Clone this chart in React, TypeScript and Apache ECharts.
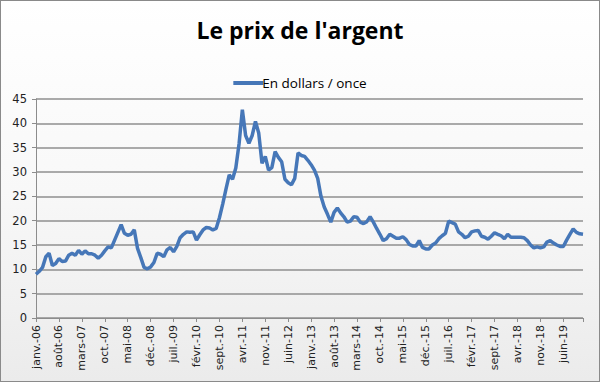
import React, { useEffect, useRef } from "react";
import * as echarts from "echarts";

const title = "Le prix de l'argent";
const seriesName = "En dollars / once";

const monthNames = ["janv.", "févr.", "mars", "avr.", "mai", "juin", "juil.", "août", "sept.", "oct.", "nov.", "déc."];
const years = [6, 7, 8, 9, 10, 11, 12, 13, 14, 15, 16, 17, 18, 19];

const categories: string[] = [];
years.forEach((y) => {
  monthNames.forEach((m) => {
    categories.push(m + "-" + (y < 10 ? "0" + y : String(y)));
  });
});

const v2006 = [9.0, 9.6, 10.4, 12.6, 13.3, 10.8, 11.2, 12.2, 11.6, 11.7, 12.9, 13.3];
const v2007 = [12.9, 13.9, 13.1, 13.8, 13.2, 13.2, 12.9, 12.3, 12.9, 13.8, 14.6, 14.4];
const v2008 = [16.0, 17.6, 19.2, 17.4, 17.0, 17.2, 18.1, 14.3, 12.4, 10.4, 10.1, 10.5];
const v2009 = [11.4, 13.3, 13.1, 12.6, 14.0, 14.5, 13.6, 14.7, 16.5, 17.2, 17.7, 17.6];
const v2010 = [17.7, 16.0, 17.1, 18.1, 18.6, 18.5, 18.1, 18.4, 20.6, 23.4, 26.5, 29.4];
const v2011 = [28.5, 30.8, 35.8, 42.8, 37.5, 35.9, 37.5, 40.4, 38.0, 31.8, 33.2, 30.4];
const v2012 = [30.9, 34.2, 33.0, 32.1, 28.5, 27.8, 27.4, 28.7, 33.9, 33.4, 33.2, 32.4];
const v2013 = [31.5, 30.4, 28.7, 25.0, 22.8, 21.3, 19.7, 21.7, 22.6, 21.6, 20.8, 19.7];
const v2014 = [19.9, 20.8, 20.7, 19.7, 19.4, 19.8, 20.8, 19.7, 18.4, 17.2, 15.9, 16.3];
const v2015 = [17.2, 16.8, 16.4, 16.4, 16.7, 16.1, 15.1, 14.8, 14.8, 15.9, 14.5, 14.2];
const v2016 = [14.2, 15.0, 15.4, 16.3, 16.9, 17.4, 19.9, 19.6, 19.3, 17.7, 17.2, 16.5];
const v2017 = [16.8, 17.7, 17.9, 18.0, 16.8, 16.6, 16.2, 16.8, 17.5, 17.2, 16.9, 16.3];
const v2018 = [17.2, 16.6, 16.6, 16.6, 16.6, 16.5, 15.9, 15.0, 14.4, 14.6, 14.4, 14.6];
const v2019 = [15.6, 15.9, 15.4, 15.0, 14.7, 14.7, 16.0, 17.2, 18.3, 17.6, 17.3, 17.2];

const values = [
  ...v2006, ...v2007, ...v2008, ...v2009, ...v2010, ...v2011, ...v2012,
  ...v2013, ...v2014, ...v2015, ...v2016, ...v2017, ...v2018, ...v2019,
];

const yMin = 0;
const yMax = 45;
const yStep = 5;
const labelEvery = 7;

export default function App() {
  const ref = useRef<HTMLDivElement>(null);
  useEffect(() => {
    if (!ref.current) return;
    const chart = echarts.init(ref.current, null, { renderer: "svg" });
    const last = categories.length - 1;
    chart.setOption({
      animation: false,
      title: {
        text: title,
        left: "center",
        top: 13,
        textStyle: {
          fontFamily: "Open Sans",
          fontWeight: "bold",
          fontSize: 23,
          color: "#000",
        },
      },
      legend: {
        top: 71,
        left: "center",
        itemWidth: 30,
        itemHeight: 4,
        icon: "rect",
        itemGap: 10,
        textStyle: { fontFamily: "Open Sans", fontSize: 13.5, color: "#000", padding: [0, 0, 0, -6] },
        data: [seriesName],
      },
      grid: {
        left: 36,
        right: 17,
        top: 99,
        bottom: 64,
        containLabel: false,
      },
      xAxis: {
        type: "category",
        data: categories,
        boundaryGap: false,
        axisLine: { show: true, lineStyle: { color: "#8c8c8c", width: 1 } },
        axisTick: {
          show: true,
          length: 4,
          interval: (i: number) => i % labelEvery === 0 || i === last,
          lineStyle: { color: "#8c8c8c" },
        },
        axisLabel: {
          interval: labelEvery - 1,
          rotate: 90,
          fontFamily: "DejaVu Sans",
          fontSize: 11,
          color: "#222",
          margin: 7,
        },
        splitLine: { show: false },
      },
      yAxis: {
        type: "value",
        min: yMin,
        max: yMax,
        interval: yStep,
        axisLine: { show: true, lineStyle: { color: "#8c8c8c", width: 1 } },
        axisTick: { show: true, length: 4, lineStyle: { color: "#8c8c8c" } },
        axisLabel: {
          fontFamily: "DejaVu Sans",
          fontSize: 11.5,
          color: "#222",
          margin: 9,
        },
        splitLine: { show: true, lineStyle: { color: "#8f8f8f", width: 1.5 } },
      },
      series: [
        {
          name: seriesName,
          type: "line",
          data: values,
          symbol: "none",
          smooth: false,
          lineStyle: { color: "#4677b8", width: 3.5 },
          itemStyle: { color: "#4677b8" },
        },
      ],
    });
    return () => chart.dispose();
  }, []);
  return (
    <div
      style={{
        position: "absolute",
        left: 0,
        top: 0,
        width: 600,
        height: 382,
        boxSizing: "border-box",
        border: "1px solid #8a8a8a",
        background: "linear-gradient(to bottom, #ffffff 0%, #f8f8f8 50%, #ebebeb 100%)",
      }}
    >
      <div ref={ref} style={{ position: "absolute", left: -1, top: -1, width: 600, height: 382 }} />
    </div>
  );
}
